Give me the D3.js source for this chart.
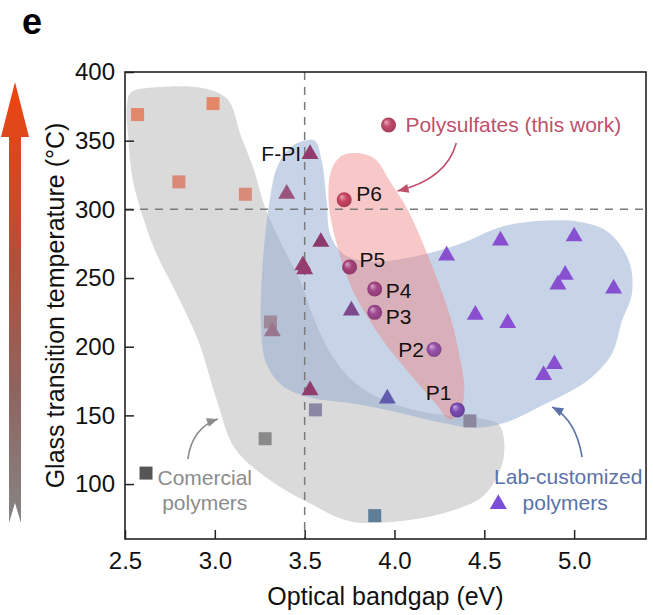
<!DOCTYPE html>
<html>
<head>
<meta charset="utf-8">
<script src="https://d3js.org/d3.v7.min.js"></script>
<style>
  body { margin: 0; background: #fff; }
  svg { display: block; font-family: "Liberation Sans", Arial, Helvetica, sans-serif; }
</style>
</head>
<body>
<svg id="chart"></svg>
<script>
// ---------------- data ----------------
// x = optical bandgap (eV), y = glass transition temperature (°C)
const commercial = [
  [2.57, 369], [2.99, 377], [2.80, 320], [3.17, 311], [3.31, 218],
  [3.56, 154], [3.28, 133], [4.42, 146], [3.89, 77]
];
const labCustom = [
  [3.53, 341], [3.40, 312], [3.59, 277], [3.49, 260], [3.50, 257],
  [4.29, 267], [3.76, 227], [3.32, 212], [3.53, 169], [3.96, 163],
  [4.45, 224], [4.59, 278], [5.00, 281], [4.95, 253], [4.91, 246],
  [5.22, 243], [4.63, 218], [4.89, 188], [4.83, 180]
];
const polyNames = ["P1", "P2", "P3", "P4", "P5", "P6"];
const polyX = [4.35, 4.22, 3.89, 3.89, 3.75, 3.72];
const polyY = [154, 198, 225, 242, 258, 307];

// shaded areas (outline in data units)
const grayArea = [
  [2.533, 385], [2.694, 389], [2.944, 388], [3.072, 380], [3.144, 354], [3.217, 329],
  [3.283, 300], [3.389, 270], [3.472, 249], [3.556, 219], [3.65, 194], [3.778, 174],
  [3.944, 161], [4.178, 152], [4.472, 148], [4.583, 143], [4.606, 118], [4.5, 92],
  [4.306, 80], [4.028, 73], [3.75, 73], [3.528, 86], [3.294, 104], [3.111, 126],
  [3.011, 161], [2.906, 205], [2.778, 241], [2.667, 270], [2.594, 297], [2.544, 321],
  [2.517, 354], [2.511, 376]
];
const blueArea = [
  [3.472, 349], [3.556, 350], [3.594, 336], [3.622, 307], [3.644, 281], [3.722, 267],
  [3.878, 262], [4.156, 267], [4.389, 276], [4.544, 285], [4.694, 290], [5.028, 291],
  [5.194, 283], [5.306, 262], [5.322, 239], [5.267, 219], [5.211, 195], [5.1, 178],
  [4.972, 167], [4.833, 158], [4.622, 145], [4.456, 141], [4.25, 145], [4.028, 152],
  [3.75, 159], [3.528, 163], [3.372, 172], [3.283, 189], [3.256, 219], [3.261, 249],
  [3.278, 278], [3.306, 307], [3.344, 330], [3.406, 343]
];
const pinkArea = [
  [3.789, 341], [3.889, 337], [3.972, 321], [4.072, 300], [4.178, 269], [4.261, 241],
  [4.317, 219], [4.361, 194], [4.389, 168], [4.361, 152], [4.306, 147], [4.233, 158],
  [4.067, 183], [3.917, 208], [3.761, 243], [3.672, 278], [3.633, 307], [3.65, 329],
  [3.706, 339]
];

const xTicks = [2.5, 3.0, 3.5, 4.0, 4.5, 5.0];
const xMinor = [2.75, 3.25, 3.75, 4.25, 4.75, 5.25];
const yTicks = [100, 150, 200, 250, 300, 350, 400];
const yMinor = [75, 125, 175, 225, 275, 325, 375];

// ---------------- layout ----------------
const W = 653, H = 615;
const L = 125, R = 646, T = 72, B = 539;
const FONT = 24;

const svg = d3.select("#chart").attr("width", W).attr("height", H);
const defs = svg.append("defs");

const x = d3.scaleLinear().domain([2.5, 5.4]).range([L, R]);
const y = d3.scaleLinear().domain([60, 400]).range([B, T]);

// colours
const sqColor = d3.scaleLinear()
  .domain([77, 133, 150, 218, 311, 377])
  .range(["#5e7e98", "#8a8a8a", "#8b86a6", "#a08a98", "#d98a78", "#e38768"]);
const triColor = d3.scaleLinear()
  .domain([3.3, 3.45, 3.6, 3.8, 4.0, 4.3, 5.3])
  .range(["#9a7e92", "#9c3f72", "#8a3a68", "#7a4a98", "#5b5fb2", "#8a4fd0", "#8650d0"]);
const sphColor = d3.scaleLinear()
  .domain([154, 198, 225, 258, 307])
  .range(["#7c4cb6", "#9a52aa", "#a24a92", "#a8447c", "#cc4662"]);

// ---------------- left temperature arrow ----------------
const grad = defs.append("linearGradient").attr("id", "tempGrad")
  .attr("x1", 0).attr("y1", 1).attr("x2", 0).attr("y2", 0);
grad.append("stop").attr("offset", "0%").attr("stop-color", "#858585");
grad.append("stop").attr("offset", "30%").attr("stop-color", "#8f6460");
grad.append("stop").attr("offset", "60%").attr("stop-color", "#b2503a");
grad.append("stop").attr("offset", "100%").attr("stop-color", "#f0440e");

svg.append("path")
  .attr("d", "M15,82 L29,137 L21,137 L21,523 L15,503 L9,523 L9,137 L1,137 Z")
  .attr("fill", "url(#tempGrad)");

// panel letter
svg.append("text").attr("x", 22).attr("y", 34)
  .attr("font-size", 36).attr("font-weight", "bold").text("e");

// ---------------- shaded areas ----------------
const area = d3.line().x(d => x(d[0])).y(d => y(d[1])).curve(d3.curveCatmullRomClosed.alpha(0.5));

svg.append("path").attr("d", area(grayArea)).attr("fill", "#dadada");
svg.append("path").attr("d", area(blueArea)).attr("fill", "#90a9d2").attr("fill-opacity", 0.5);
svg.append("path").attr("d", area(pinkArea)).attr("fill", "#f08282").attr("fill-opacity", 0.45);

// dashed guide lines
svg.append("line")
  .attr("x1", x(3.5)).attr("x2", x(3.5)).attr("y1", T).attr("y2", B)
  .attr("stroke", "#7a7a7a").attr("stroke-width", 1.5).attr("stroke-dasharray", "8,7");
svg.append("line")
  .attr("x1", L).attr("x2", R).attr("y1", y(300)).attr("y2", y(300))
  .attr("stroke", "#7a7a7a").attr("stroke-width", 1.5).attr("stroke-dasharray", "8,7");

// ---------------- markers ----------------
const SQ = 13;
svg.append("g").selectAll("rect").data(commercial).join("rect")
  .attr("x", d => x(d[0]) - SQ / 2).attr("y", d => y(d[1]) - SQ / 2)
  .attr("width", SQ).attr("height", SQ)
  .attr("fill", d => sqColor(d[1]));

const tri = d3.symbol(d3.symbolTriangle, 125);
svg.append("g").selectAll("path").data(labCustom).join("path")
  .attr("d", tri)
  .attr("transform", d => `translate(${x(d[0])},${y(d[1]) + 1})`)
  .attr("fill", d => triColor(d[0]));

function sphereGrad(id, c) {
  const g = defs.append("radialGradient").attr("id", id)
    .attr("cx", "50%").attr("cy", "50%").attr("r", "55%")
    .attr("fx", "32%").attr("fy", "28%");
  g.append("stop").attr("offset", "0%").attr("stop-color", d3.interpolateRgb(c, "#fff")(0.55));
  g.append("stop").attr("offset", "45%").attr("stop-color", c);
  g.append("stop").attr("offset", "100%").attr("stop-color", d3.color(c).darker(0.6));
  return `url(#${id})`;
}

const polys = polyNames.map((n, i) => ({ name: n, bx: polyX[i], tg: polyY[i] }));
// label placement: [dx, dy, anchor]
const labelPos = {
  P1: [-6, -10, "end"], P2: [-10, 8, "end"], P3: [11, 12, "start"],
  P4: [11, 9, "start"], P5: [10, 0, "start"], P6: [12, 1, "start"]
};

svg.append("g").selectAll("circle").data(polys).join("circle")
  .attr("cx", d => x(d.bx)).attr("cy", d => y(d.tg)).attr("r", 7.5)
  .attr("fill", (d, i) => sphereGrad("sph" + i, sphColor(d.tg)));

svg.append("g").selectAll("text").data(polys).join("text")
  .attr("x", d => x(d.bx) + labelPos[d.name][0])
  .attr("y", d => y(d.tg) + labelPos[d.name][1])
  .attr("text-anchor", d => labelPos[d.name][2])
  .attr("font-size", 21).attr("fill", "#111")
  .text(d => d.name);

// F-PI label on its triangle
svg.append("text")
  .attr("x", x(labCustom[0][0]) - 9).attr("y", y(labCustom[0][1]) + 8)
  .attr("text-anchor", "end").attr("font-size", 21).attr("fill", "#111")
  .text("F-PI");

// ---------------- axes ----------------
const gx = svg.append("g").attr("transform", `translate(0,${B})`);
gx.call(d3.axisBottom(x).tickValues(xMinor).tickSize(-5).tickSizeOuter(0).tickFormat(""));
gx.call(d3.axisBottom(x).tickValues(xTicks).tickSize(-9).tickSizeOuter(0)
  .tickPadding(13).tickFormat(d3.format(".1f")));

const gy = svg.append("g").attr("transform", `translate(${L},0)`);
gy.call(d3.axisLeft(y).tickValues(yMinor).tickSize(-5).tickSizeOuter(0).tickFormat(""));
gy.call(d3.axisLeft(y).tickValues(yTicks).tickSize(-9).tickSizeOuter(0).tickPadding(10));

svg.selectAll(".tick line").attr("stroke", "#222").attr("stroke-width", 1.5);
svg.selectAll(".domain").remove();
svg.selectAll(".tick text")
  .attr("font-size", FONT).attr("fill", "#111")
  .attr("font-family", "'Liberation Sans', Arial, sans-serif");

// frame
svg.append("rect").attr("x", L).attr("y", T).attr("width", R - L).attr("height", B - T)
  .attr("fill", "none").attr("stroke", "#222").attr("stroke-width", 1.6);

// axis titles
svg.append("text").attr("x", (L + R) / 2).attr("y", 605)
  .attr("text-anchor", "middle").attr("font-size", 25).attr("fill", "#111")
  .text("Optical bandgap (eV)");
svg.append("text")
  .attr("transform", `translate(64,${(T + B) / 2}) rotate(-90)`)
  .attr("text-anchor", "middle").attr("font-size", 25).attr("fill", "#111")
  .text("Glass transition temperature (\u00B0C)");

// ---------------- annotations ----------------
function curvedArrow(p0, c, p1, color) {
  const a = [x(p0[0]), y(p0[1])], k = [x(c[0]), y(c[1])], b = [x(p1[0]), y(p1[1])];
  const p = d3.path();
  p.moveTo(a[0], a[1]);
  p.quadraticCurveTo(k[0], k[1], b[0], b[1]);
  svg.append("path").attr("d", p.toString()).attr("fill", "none")
    .attr("stroke", color).attr("stroke-width", 1.6);
  const ang = Math.atan2(b[1] - k[1], b[0] - k[0]);
  const len = 11, wid = 4.5;
  const bx = b[0] - len * Math.cos(ang), by = b[1] - len * Math.sin(ang);
  svg.append("path")
    .attr("d", `M${b[0]},${b[1]} L${bx - wid * Math.sin(ang)},${by + wid * Math.cos(ang)} ` +
               `L${bx + wid * Math.sin(ang)},${by - wid * Math.cos(ang)} Z`)
    .attr("fill", color);
}

// Polysulfates
svg.append("circle").attr("cx", x(3.967)).attr("cy", y(361.4)).attr("r", 7.5)
  .attr("fill", sphereGrad("sphLeg", "#c44a6c"));
svg.append("text").attr("x", x(4.061)).attr("y", y(356.3))
  .attr("font-size", 21).attr("fill", "#c0506a").text("Polysulfates (this work)");
curvedArrow([4.344, 348.3], [4.29, 322], [4.017, 313.4], "#c0506a");

// Commercial
svg.append("rect").attr("x", x(2.617) - 6.5).attr("y", y(108) - 6.5)
  .attr("width", 13).attr("height", 13).attr("fill", "#555");
const comText = svg.append("text").attr("font-size", 21).attr("fill", "#8c8c8c")
  .attr("text-anchor", "middle");
comText.append("tspan").attr("x", x(2.944)).attr("y", y(99.3)).text("Comercial");
comText.append("tspan").attr("x", x(2.944)).attr("y", y(81.1)).text("polymers");
curvedArrow([2.85, 118.2], [2.872, 140.8], [3.017, 147.4], "#8c8c8c");

// Lab-customized
svg.append("path").attr("d", tri)
  .attr("transform", `translate(${x(4.578)},${y(86.2) + 1})`).attr("fill", "#7b4fd8");
const labText = svg.append("text").attr("font-size", 21).attr("fill", "#5b72a8")
  .attr("text-anchor", "middle");
labText.append("tspan").attr("x", x(4.967)).attr("y", y(100)).text("Lab-customized");
labText.append("tspan").attr("x", x(4.95)).attr("y", y(81.1)).text("polymers");
curvedArrow([5.044, 119.7], [5.011, 146.6], [4.878, 156.1], "#5b72a8");
</script>
</body>
</html>
